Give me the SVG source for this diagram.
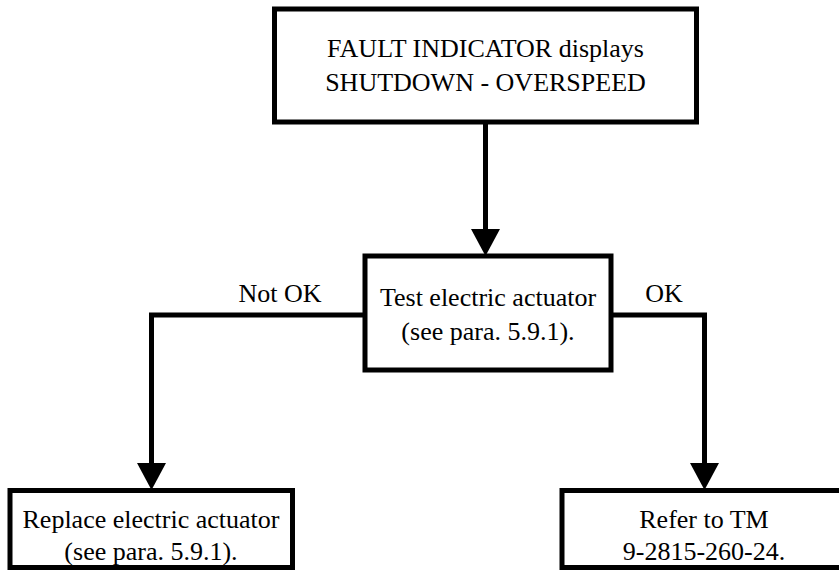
<svg xmlns="http://www.w3.org/2000/svg" width="839" height="571" viewBox="0 0 839 571">
<defs>
<style>
.box{fill:#fff;stroke:#000;stroke-width:5}
.t{font-family:'Liberation Serif','Times New Roman',Times,'DejaVu Serif',serif;font-size:26px;fill:#000;text-anchor:middle}
.ln{fill:none;stroke:#000;stroke-width:5;stroke-linejoin:miter}
</style>
</defs>
<rect width="839" height="571" fill="#fff"/>
<g id="connectors">
<line class="ln" x1="485.5" y1="122" x2="485.5" y2="232"/>
<path d="M471,229 L500,229 L485.5,256 Z" fill="#000"/>
<polyline class="ln" points="365,315 151.5,315 151.5,466"/>
<path d="M137,463 L166,463 L151.5,490 Z" fill="#000"/>
<polyline class="ln" points="611,315 704.5,315 704.5,466"/>
<path d="M690,463 L719,463 L704.5,490 Z" fill="#000"/>
<text class="t" x="280" y="302" font-family="Liberation Serif, serif">Not OK</text>
<text class="t" x="664" y="302" font-family="Liberation Serif, serif">OK</text>
</g>
<g id="n1">
<rect class="box" x="274.5" y="9" width="422" height="113"/>
<text class="t" x="485.5" y="57" font-family="Liberation Serif, serif">FAULT INDICATOR displays</text>
<text class="t" x="485.5" y="91" font-family="Liberation Serif, serif">SHUTDOWN - OVERSPEED</text>
</g>
<g id="n2">
<rect class="box" x="365" y="256" width="246" height="114"/>
<text class="t" x="488" y="306" font-family="Liberation Serif, serif">Test electric actuator</text>
<text class="t" x="488" y="340" font-family="Liberation Serif, serif">(see para. 5.9.1).</text>
</g>
<g id="n3">
<rect class="box" x="10" y="490.5" width="282.5" height="77"/>
<text class="t" x="151" y="528" font-family="Liberation Serif, serif">Replace electric actuator</text>
<text class="t" x="151" y="560" font-family="Liberation Serif, serif">(see para. 5.9.1).</text>
</g>
<g id="n4">
<rect class="box" x="562" y="490.5" width="285" height="77"/>
<text class="t" x="704" y="528" font-family="Liberation Serif, serif">Refer to TM</text>
<text class="t" x="704" y="560" font-family="Liberation Serif, serif">9-2815-260-24.</text>
</g>
</svg>
